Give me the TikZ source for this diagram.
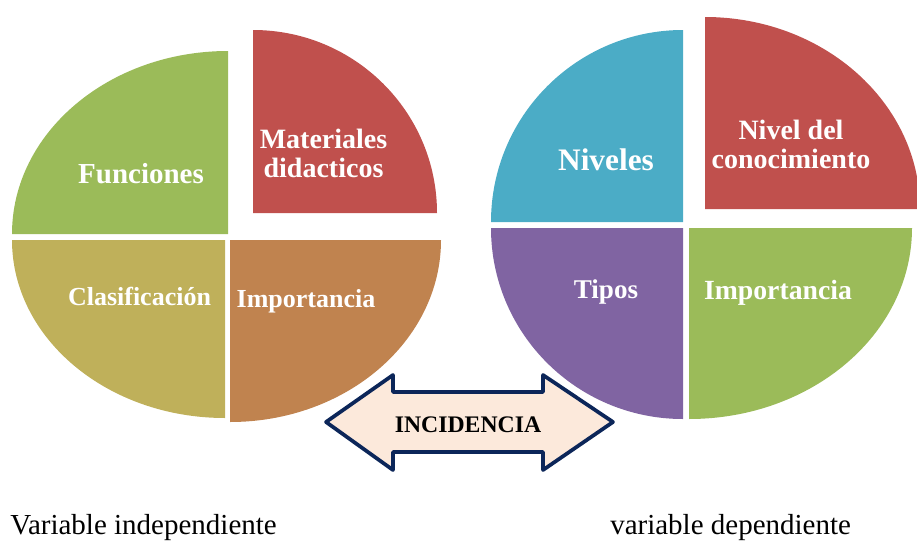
\documentclass[tikz,border=0pt]{standalone}
\usepackage{fontspec}
\setmainfont{Liberation Serif}
\usepackage{xcolor}
\usetikzlibrary{positioning}

\definecolor{pieGreen}{HTML}{9BBB59}
\definecolor{pieRed}{HTML}{C0504D}
\definecolor{pieOlive}{HTML}{BFB05A}
\definecolor{pieBrown}{HTML}{C0834F}
\definecolor{pieBlue}{HTML}{4BACC6}
\definecolor{piePurple}{HTML}{8064A2}
\definecolor{arrowNavy}{HTML}{0C2659}
\definecolor{arrowFill}{HTML}{FCE9DB}

\newcommand{\fs}[1]{\fontsize{#1}{1.04\dimexpr#1pt\relax}\selectfont}

\begin{document}
\begin{tikzpicture}[x=0.75pt, y=0.75pt,
    lbl/.style={text=white, font=\bfseries, inner sep=0pt, align=center},
    captxt/.style={text=black, inner sep=0pt, anchor=base}]
            \useasboundingbox (0,0) rectangle (917,-543);

            % variable independiente
            \fill[pieGreen] (228,-234) -- (12,-234) arc[start angle=180, end angle=90, x radius=216, y radius=183] -- cycle;
            \fill[pieRed] (253,-213) -- (253,-30) arc[start angle=90, end angle=0, x radius=184, y radius=183] -- cycle;
            \fill[pieOlive] (225,-240) -- (225,-418) arc[start angle=270, end angle=180, x radius=213, y radius=178] -- cycle;
            \fill[pieBrown] (230,-240) -- (441,-240) arc[start angle=0, end angle=-90, x radius=211, y radius=182] -- cycle;

            % variable dependiente
            \fill[pieBlue] (683,-222) -- (491,-222) arc[start angle=180, end angle=90, x radius=192, y radius=192] -- cycle;
            \fill[pieRed] (705,-209) -- (705,-17) arc[start angle=90, end angle=0, x radius=215, y radius=192] -- cycle;
            \fill[piePurple] (683,-228) -- (683,-419) arc[start angle=270, end angle=180, x radius=192, y radius=191] -- cycle;
            \fill[pieGreen] (689,-228) -- (912,-228) arc[start angle=0, end angle=-90, x radius=223, y radius=191] -- cycle;

            \node[lbl, font=\bfseries\fs{21.75}, anchor=base] (funciones) at (141,-183) {Funciones};
            \node[lbl, font=\bfseries\fs{21}] (materiales) at (323.5,-153) {Materiales\\didacticos};
            \node[lbl, font=\bfseries\fs{19.5}, anchor=base] (clasif) at (139.5,-305) {Clasificación};
            \node[lbl, font=\bfseries\fs{19.5}, anchor=base] (importI) at (306,-307) {Importancia};

            \node[lbl, font=\bfseries\fs{23.5}, anchor=base] (niveles) at (606,-170) {Niveles};
            \node[lbl, font=\bfseries\fs{21}] (nivelcon) at (791,-144.5) {Nivel del\\conocimiento};
            \node[lbl, font=\bfseries\fs{20.3}, anchor=base] (tipos) at (606,-298) {Tipos};
            \node[lbl, font=\bfseries\fs{20.8}, anchor=base] (importD) at (778,-299) {Importancia};

            % flecha doble
            \draw[arrowNavy, fill=arrowFill, line width=2.8pt, line join=round]
                (326,-422) -- (393,-375) -- (393,-392) -- (543,-392) -- (543,-375) -- (613,-422)
                -- (543,-470) -- (543,-452) -- (393,-452) -- (393,-470) -- cycle;
            \node[captxt, font=\bfseries\fs{17.8}] (incid) at (468,-432) {INCIDENCIA};

            \node[captxt, font=\fs{21.75}, anchor=base west] (vindep) at (10,-534) {Variable independiente};
            \node[captxt, font=\fs{21.75}, anchor=base west] (vdep) at (610,-534) {variable dependiente};
        \end{tikzpicture}
\end{document}
